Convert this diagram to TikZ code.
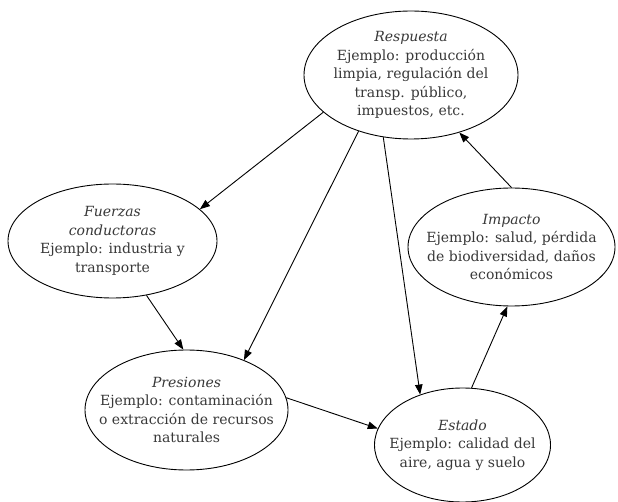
\documentclass[tikz,border=0pt]{standalone}
\usepackage{fontspec}
\setmainfont{DejaVu Serif}
\usetikzlibrary{shapes.geometric,arrows.meta}
\begin{document}
\begin{tikzpicture}[x=1pt,y=-1pt,
  phase/.style={ellipse,draw,line width=0.9pt,inner sep=0pt},
  caption/.style={align=center,inner sep=0pt,text=black!78,
    font=\fontsize{14}{18.5}\selectfont},
  link/.style={line width=0.9pt,-{Triangle[length=10pt,width=7.5pt]}}]
\useasboundingbox (0,0) rectangle (618,502);
% ellipses (outline only) with their text set on top
\node[phase,minimum width=214pt,minimum height=128pt] (resp) at (411,75) {};
\node[caption] (resp-t) at (resp)
  {\textit{Respuesta}\\Ejemplo: producción\\limpia, regulación del\\transp. público,\\impuestos, etc.};
\node[phase,minimum width=209pt,minimum height=114pt] (fuer) at (112.5,241) {};
\node[caption] (fuer-t) at (fuer)
  {\textit{Fuerzas}\\\textit{conductoras}\\Ejemplo: industria y\\transporte};
\node[phase,minimum width=207pt,minimum height=118pt] (imp) at (511.5,247) {};
\node[caption] (imp-t) at (imp)
  {\textit{Impacto}\\Ejemplo: salud, pérdida\\de biodiversidad, daños\\económicos};
\node[phase,minimum width=203pt,minimum height=120pt] (pres) at (186.5,410) {};
\node[caption] (pres-t) at (pres)
  {\textit{Presiones}\\Ejemplo: contaminación\\o extracción de recursos\\naturales};
\node[phase,minimum width=176pt,minimum height=114pt] (est) at (462.5,445) {};
\node[caption] (est-t) at (est)
  {\textit{Estado}\\Ejemplo: calidad del\\aire, agua y suelo};
% causal links
\draw[link] (resp.203.4) -- (fuer.20.5);
\draw[link] (resp.227.6) -- (pres.41.1);
\draw[link] (resp.246.8) -- (est.130.5);
\draw[link] (fuer.302.6) -- (pres.93.2);
\draw[link] (pres.7.4) -- (est.169.5);
\draw[link] (est.81.5) -- (imp.266.7);
\draw[link] (imp.90.5) -- (resp.310.3);
\end{tikzpicture}
\end{document}
